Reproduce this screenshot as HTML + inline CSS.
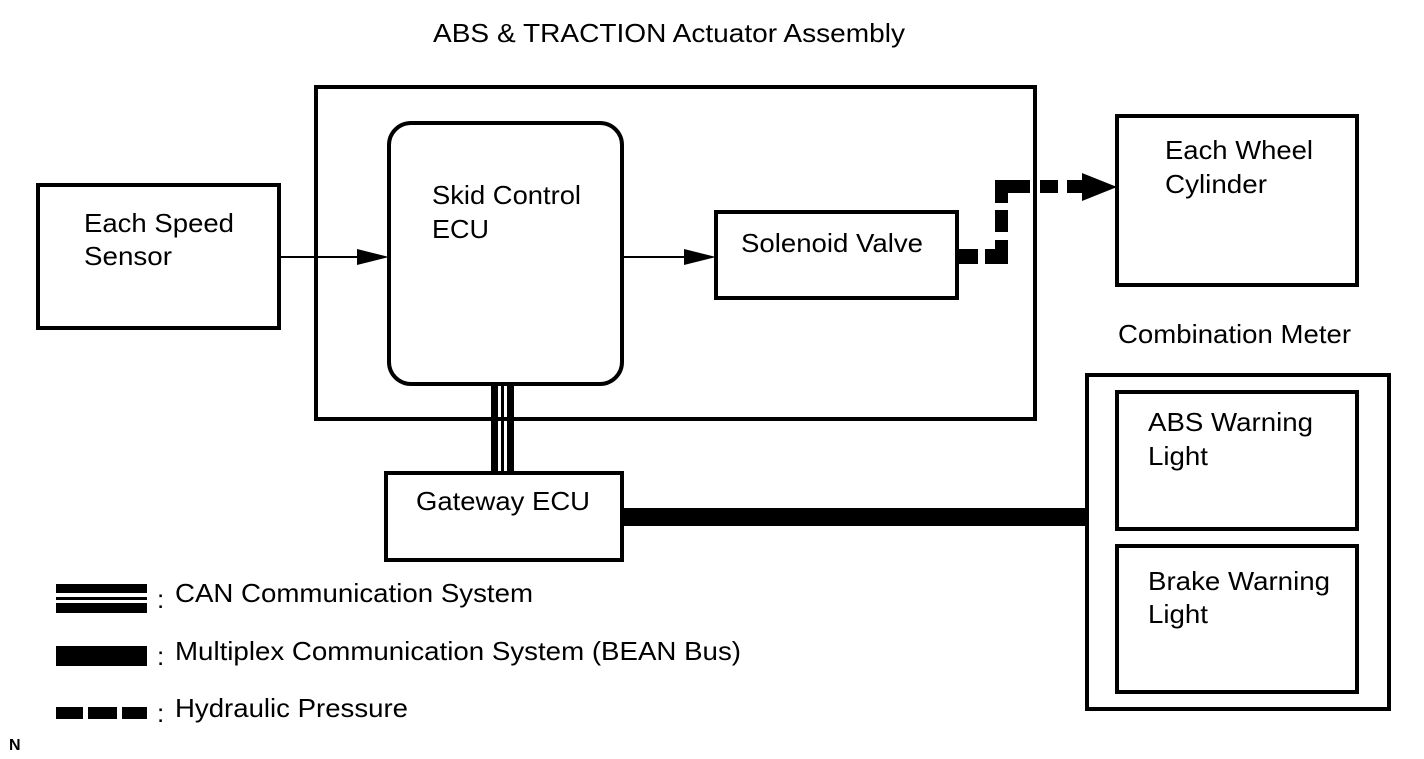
<!DOCTYPE html>
<html><head><meta charset="utf-8"><style>
html,body{margin:0;padding:0;background:#fff;}
svg{display:block;}
text{font-family:"Liberation Sans",Arial,sans-serif;font-size:26px;fill:#000;}
</style></head><body>
<svg width="1424" height="759" viewBox="0 0 1424 759" xmlns="http://www.w3.org/2000/svg">
<g fill="none" stroke="#000" stroke-width="4">
<rect x="316" y="87" width="719" height="332"/>
<rect x="389" y="123" width="233" height="261" rx="22"/>
<rect x="38" y="185" width="241" height="143"/>
<rect x="716" y="212" width="241" height="86"/>
<rect x="1117" y="116" width="240" height="169"/>
<rect x="1087" y="375" width="302" height="334"/>
<rect x="1117" y="392" width="240" height="137"/>
<rect x="1117" y="546" width="240" height="146"/>
<rect x="386" y="473" width="236" height="87"/>
</g>
<g stroke="#000" stroke-width="2">
<line x1="279" y1="257" x2="365" y2="257"/>
<line x1="622" y1="257" x2="692" y2="257"/>
</g>
<polygon points="389,257 357,249 357,265" fill="#000"/>
<polygon points="716,257 684,249 684,265" fill="#000"/>
<rect x="491" y="384" width="7" height="89" fill="#000"/>
<rect x="501" y="384" width="3" height="89" fill="#000"/>
<rect x="507" y="384" width="7" height="89" fill="#000"/>
<rect x="622" y="508" width="465" height="18" fill="#000"/>
<g fill="#000">
<rect x="957" y="249" width="21" height="15"/>
<rect x="985" y="249" width="23" height="15"/>
<rect x="995" y="240" width="13" height="24"/>
<rect x="995" y="210" width="13" height="22"/>
<rect x="995" y="180" width="13" height="23"/>
<rect x="995" y="180" width="35" height="13"/>
<rect x="1040" y="180" width="18" height="13"/>
<rect x="1067" y="180" width="16" height="13"/>
<polygon points="1117,187 1082,173 1082,201"/>
</g>
<g fill="#000">
<rect x="56" y="584" width="91" height="9"/>
<rect x="56" y="597" width="91" height="3"/>
<rect x="56" y="603" width="91" height="10"/>
<rect x="56" y="646" width="91" height="20"/>
<rect x="56" y="707" width="27" height="12"/>
<rect x="88" y="707" width="29" height="12"/>
<rect x="122" y="707" width="25" height="12"/>
</g>
<g lengthAdjust="spacingAndGlyphs">
<text x="433" y="42" textLength="472" lengthAdjust="spacingAndGlyphs">ABS &amp; TRACTION Actuator Assembly</text>
<text x="84" y="232" textLength="150" lengthAdjust="spacingAndGlyphs">Each Speed</text>
<text x="84" y="265" textLength="88" lengthAdjust="spacingAndGlyphs">Sensor</text>
<text x="432" y="204" textLength="149" lengthAdjust="spacingAndGlyphs">Skid Control</text>
<text x="432" y="238" textLength="57" lengthAdjust="spacingAndGlyphs">ECU</text>
<text x="741" y="252" textLength="182" lengthAdjust="spacingAndGlyphs">Solenoid Valve</text>
<text x="1165" y="159" textLength="148" lengthAdjust="spacingAndGlyphs">Each Wheel</text>
<text x="1165" y="193" textLength="102" lengthAdjust="spacingAndGlyphs">Cylinder</text>
<text x="1118" y="343" textLength="233" lengthAdjust="spacingAndGlyphs">Combination Meter</text>
<text x="1148" y="431" textLength="165" lengthAdjust="spacingAndGlyphs">ABS Warning</text>
<text x="1148" y="465" textLength="60" lengthAdjust="spacingAndGlyphs">Light</text>
<text x="1148" y="590" textLength="182" lengthAdjust="spacingAndGlyphs">Brake Warning</text>
<text x="1148" y="623" textLength="60" lengthAdjust="spacingAndGlyphs">Light</text>
<text x="416" y="510" textLength="174" lengthAdjust="spacingAndGlyphs">Gateway ECU</text>
<text x="157" y="608">:</text>
<text x="157" y="665">:</text>
<text x="157" y="722">:</text>
<text x="175" y="602" textLength="358" lengthAdjust="spacingAndGlyphs">CAN Communication System</text>
<text x="175" y="660" textLength="566" lengthAdjust="spacingAndGlyphs">Multiplex Communication System (BEAN Bus)</text>
<text x="175" y="717" textLength="233" lengthAdjust="spacingAndGlyphs">Hydraulic Pressure</text>
</g>
<text x="9" y="750" style="font-size:16px;font-weight:bold">N</text>
</svg>
</body></html>
